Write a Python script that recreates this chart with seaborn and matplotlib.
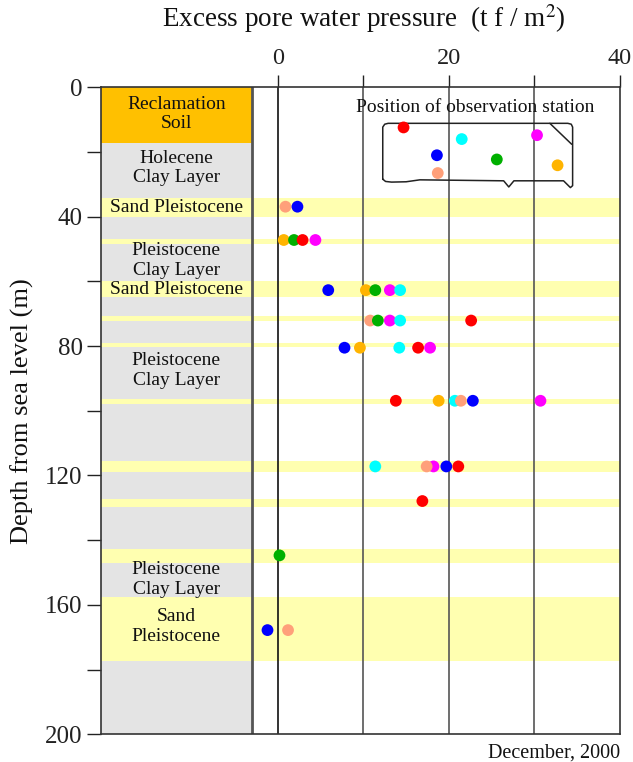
import matplotlib
matplotlib.use("Agg")
import matplotlib.pyplot as plt
import seaborn as sns
import pandas as pd

# ---- observation data (December 2000) ----
station_colors = {
    "red": "#FF0000", "magenta": "#FF00FF", "cyan": "#00FFFF", "blue": "#0000FF",
    "green": "#00B000", "orange": "#FFB400", "salmon": "#FFA07A",
}

obs_station = [
    "salmon", "blue",
    "orange", "green", "red", "magenta",
    "blue", "orange", "green", "magenta", "cyan",
    "salmon", "green", "magenta", "cyan", "red",
    "blue", "orange", "cyan", "red", "magenta",
    "red", "orange", "cyan", "salmon", "blue", "magenta",
    "cyan", "magenta", "salmon", "blue", "red",
    "red",
    "green",
    "blue", "salmon",
]
obs_depth = [
    36.9, 36.9,
    47.2, 47.2, 47.2, 47.2,
    62.7, 62.7, 62.7, 62.7, 62.7,
    72.1, 72.1, 72.1, 72.1, 72.1,
    80.5, 80.5, 80.5, 80.5, 80.5,
    96.9, 96.9, 96.9, 96.9, 96.9, 96.9,
    117.2, 117.2, 117.2, 117.2, 117.2,
    127.9,
    144.7,
    167.8, 167.8,
]
obs_pressure = [
    0.9, 2.3,
    0.7, 1.9, 2.9, 4.4,
    5.9, 10.3, 11.4, 13.1, 14.3,
    10.8, 11.7, 13.1, 14.3, 22.6,
    7.8, 9.6, 14.2, 16.4, 17.8,
    13.8, 18.8, 20.7, 21.4, 22.8, 30.7,
    11.4, 18.2, 17.4, 19.7, 21.1,
    16.9,
    0.2,
    -1.2, 1.2,
]

# station positions on the site plan
plan_station = ["red", "cyan", "magenta", "blue", "green", "orange", "salmon"]
plan_x = [14.7, 21.5, 30.3, 18.6, 25.6, 32.7, 18.7]
plan_y = [12.4, 16.0, 14.8, 21.0, 22.3, 24.1, 26.5]

# ---- soil profile ----
sand_top = [34.3, 47.0, 59.9, 70.7, 79.0, 96.4, 115.4, 127.4, 142.7, 157.7]
sand_bottom = [40.2, 48.3, 64.9, 72.3, 80.2, 97.9, 118.9, 129.6, 147.0, 177.2]
reclamation_depth = 17.3

layer_names = [
    "Reclamation\nSoil", "Holecene\nClay Layer", "Sand Pleistocene",
    "Pleistocene\nClay Layer", "Sand Pleistocene", "Pleistocene\nClay Layer",
    "Pleistocene\nClay Layer", "Sand\nPleistocene",
]
layer_label_depth = [8.3, 24.9, 37.3, 53.5, 62.4, 87.5, 152.1, 166.7]

X_MIN, X_MAX = -20.7, 40
COL_EDGE = -3.0

sns.set_theme(style="ticks")
plt.rcParams["font.family"] = ["Liberation Serif", "DejaVu Serif"]
plt.rcParams["mathtext.fontset"] = "stix"

fig = plt.figure(figsize=(6.33, 7.62), dpi=100)
ax = fig.add_axes([0.159, 0.0364, 0.8205, 0.849])

# soil column and sand bands
ax.axvspan(X_MIN, COL_EDGE, color="#E4E4E4", lw=0, zorder=0)
ax.fill_between([X_MIN, COL_EDGE], 0, reclamation_depth, color="#FFC000", lw=0, zorder=1)
for t, b in zip(sand_top, sand_bottom):
    ax.axhspan(t, b, color="#FFFFB0", lw=0, zorder=1)

for name, d in zip(layer_names, layer_label_depth):
    ax.text((X_MIN + COL_EDGE) / 2, d, name, ha="center", va="center",
            fontsize=14, linespacing=1.2, color="#111111", zorder=3)

ax.axvline(COL_EDGE, color="#555555", lw=2.0, zorder=2)
ax.axvline(0, color="#111111", lw=1.2, zorder=2)
for gx in (10, 20, 30):
    ax.axvline(gx, color="#555555", lw=1.2, zorder=2)

# site plan of the observation stations
ax.text(23.1, 6.2, "Position of observation station", ha="center", va="center",
        fontsize=14, color="#111111", zorder=3)
outline_x = [12.27, 12.27, 12.5, 12.9, 33.9, 34.3, 34.46, 34.46, 34.2, 33.4,
             27.6, 27.0, 26.4, 16.6, 15.0, 13.3, 12.6, 12.27]
outline_y = [28.4, 12.3, 11.4, 11.13, 11.13, 11.4, 12.3, 30.4, 31.0, 28.9,
             28.9, 30.8, 28.9, 28.6, 29.2, 29.3, 29.1, 28.4]
ax.plot(outline_x, outline_y, color="#222222", lw=1.1, zorder=3)
ax.plot([31.8, 34.35], [11.13, 17.6], color="#222222", lw=1.1, zorder=3)
plan = pd.DataFrame({"x": plan_x, "y": plan_y, "station": plan_station})
sns.scatterplot(data=plan, x="x", y="y", hue="station", palette=station_colors,
                s=72, linewidth=0, legend=False, ax=ax, zorder=4)

# excess pore water pressure measurements
obs = pd.DataFrame({"pressure": obs_pressure, "depth": obs_depth, "station": obs_station})
sns.scatterplot(data=obs, x="pressure", y="depth", hue="station", palette=station_colors,
                s=72, linewidth=0, legend=False, ax=ax, zorder=4)

ax.set_xlim(X_MIN, X_MAX)
ax.set_ylim(200, 0)
ax.xaxis.tick_top()
ax.set_xticks([0, 10, 20, 30, 40])
ax.set_xticklabels(["0", "", "20", "", "40"])
ax.set_yticks(range(0, 201, 20))
ax.set_yticklabels([str(v) if v % 40 == 0 else "" for v in range(0, 201, 20)])
ax.tick_params(axis="x", direction="out", length=9, width=1.0, pad=4,
               labelsize=17.5, colors="#222222")
ax.tick_params(axis="y", direction="out", length=10, width=1.0, pad=3,
               labelsize=18, colors="#222222")
ax.set_xlabel("")
ax.set_ylabel("Depth from sea level (m)", fontsize=19, labelpad=8, color="#111111")
for sp in ax.spines.values():
    sp.set_visible(True)
    sp.set_color("#333333")
    sp.set_linewidth(1.2)

fig.text(0.575, 0.976, r"Excess pore water pressure  (t f / m$^2$)", ha="center",
         va="center", fontsize=19.5, color="#111111")
fig.text(0.98, 0.012, "December, 2000", ha="right", va="center",
         fontsize=14.5, color="#111111")

fig.savefig("out.png", dpi=100)
